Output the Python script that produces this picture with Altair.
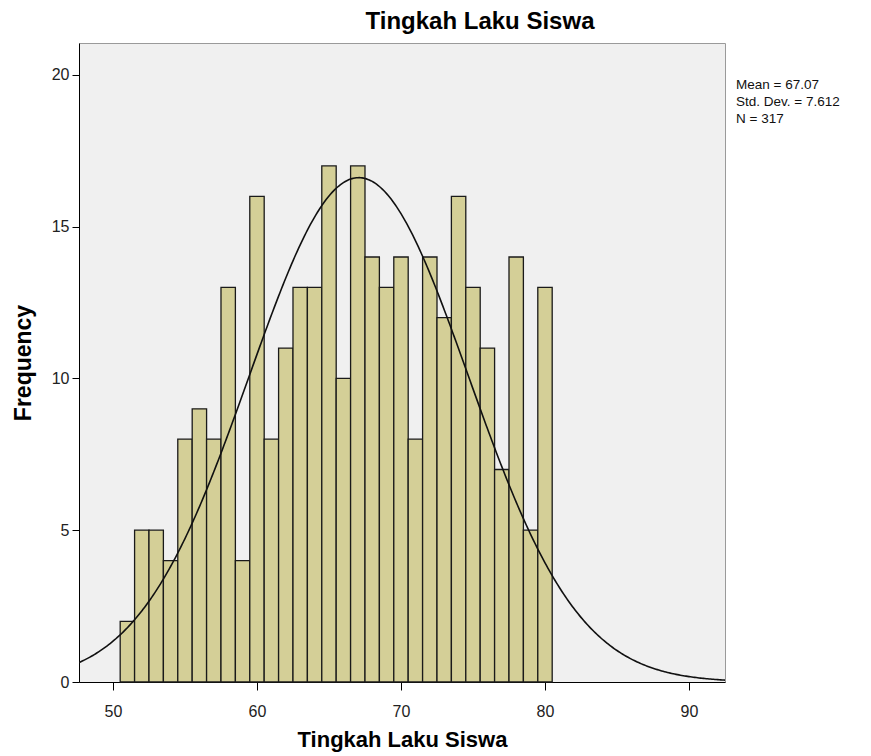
import altair as alt
import pandas as pd

# Bin centres (width 1) and frequencies
bin_centers = list(range(51, 81))
frequencies = [2, 5, 5, 4, 8, 9, 8, 13, 4, 16,
               8, 11, 13, 13, 17, 10, 17, 14, 13, 14,
               8, 14, 12, 16, 13, 11, 7, 14, 5, 13]

mean_val = 67.07
std_val = 7.612
n_val = 317
stats_lines = ["Mean = 67.07", "Std. Dev. = 7.612", "N = 317"]

x_ticks = [50, 60, 70, 80, 90]
y_ticks = [0, 5, 10, 15, 20]
x_domain = [47.64, 92.5]
y_domain = [0, 21.05]

FONT = "Liberation Sans"

df = pd.DataFrame({"center": bin_centers, "freq": frequencies})

x_scale = alt.Scale(domain=x_domain, nice=False, zero=False)
y_scale = alt.Scale(domain=y_domain, nice=False)

bars = alt.Chart(df).transform_calculate(
    lo="datum.center - 0.5", hi="datum.center + 0.5"
).mark_rect(fill="#d4cf97", stroke="#1a1a1a", strokeWidth=1.3).encode(
    x=alt.X("lo:Q", scale=x_scale,
            axis=alt.Axis(values=x_ticks, title="Tingkah Laku Siswa", grid=False,
                          tickSize=8, tickColor="#000", domainColor="#000",
                          labelFontSize=16, labelFont=FONT, labelColor="#222",
                          labelPadding=13, titleFont=FONT, titleFontSize=22,
                          titleFontWeight="bold", titleColor="#000", titlePadding=10)),
    x2="hi:Q",
    y=alt.Y("freq:Q", scale=y_scale,
            axis=alt.Axis(values=y_ticks, title="Frequency", grid=False,
                          tickSize=7, tickColor="#000", domainColor="#000",
                          labelFontSize=16, labelFont=FONT, labelColor="#222",
                          labelPadding=3, titleFont=FONT, titleFontSize=23,
                          titleFontWeight="bold", titleColor="#000", titlePadding=16)),
)

curve = alt.Chart(alt.sequence(start=47.6, stop=92.6, step=0.1, as_="xv")).transform_calculate(
    yv=f"{n_val} * exp(-0.5 * pow((datum.xv - {mean_val}) / {std_val}, 2)) / ({std_val} * sqrt(2 * PI))"
).mark_line(color="#111", strokeWidth=1.6, clip=True).encode(
    x=alt.X("xv:Q", scale=x_scale),
    y=alt.Y("yv:Q", scale=y_scale),
)

one = alt.Data(values=[{}])

title = alt.Chart(one).mark_text(
    text="Tingkah Laku Siswa", font=FONT, fontSize=24, fontWeight="bold",
    color="#000", align="center", baseline="middle"
).encode(x=alt.value(401), y=alt.value(-21))

stats = alt.Chart(one).mark_text(
    text=stats_lines, font=FONT, fontSize=13.5, color="#111",
    align="left", baseline="top", lineHeight=17
).encode(x=alt.value(657), y=alt.value(35))

chart = alt.layer(bars, curve, title, stats).properties(
    width=646, height=639,
    autosize=alt.AutoSizeParams(type="none"),
    padding={"left": 71, "top": 35, "right": 138, "bottom": 80},
).configure_view(fill="#f0f0f0", stroke="#9a9a9a", strokeWidth=1)

chart.save("out.html", embed_options={"renderer": "svg", "actions": False})
